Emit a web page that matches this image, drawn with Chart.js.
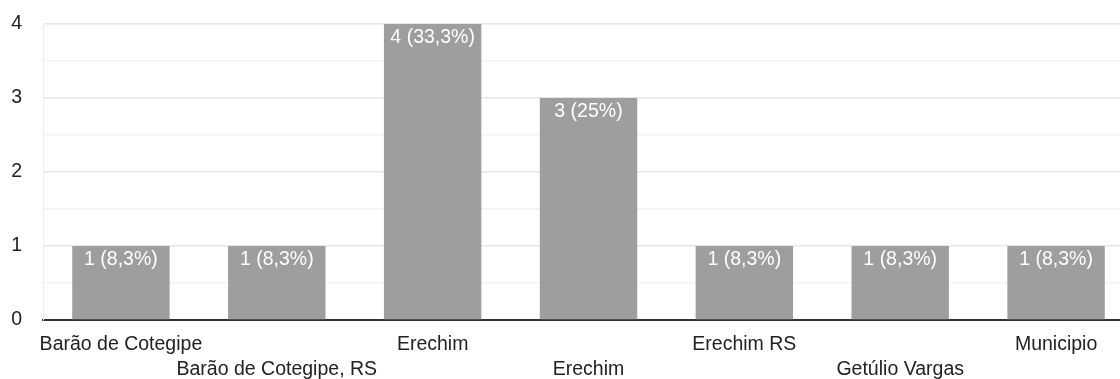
<!DOCTYPE html>
<html>
<head>
<meta charset="utf-8">
<script src="https://cdn.jsdelivr.net/npm/chart.js@4"></script>
<style>
  html, body { margin: 0; padding: 0; background: #fff; overflow: hidden; }
  #wrap { width: 1134px; height: 379px; }
</style>
</head>
<body>
<div id="wrap"><canvas id="myChart"></canvas></div>
<script>
// dados
var categories = ['Barão de Cotegipe', 'Barão de Cotegipe, RS', 'Erechim', 'Erechim', 'Erechim RS', 'Getúlio Vargas', 'Municipio'];
var counts = [1, 1, 4, 3, 1, 1, 1];
var percents = ['8,3%', '8,3%', '33,3%', '25%', '8,3%', '8,3%', '8,3%'];
var yTicks = [0, 1, 2, 3, 4];

var FONT = 'Arial, "Liberation Sans", sans-serif';
var FS = 19.5;

// rótulos alternados em duas linhas
var xLabels = categories.map(function (c, i) { return i % 2 === 0 ? c : ['', c]; });

// texto branco dentro da barra
var barLabels = {
  id: 'barLabels',
  afterDatasetsDraw: function (chart) {
    var ctx = chart.ctx;
    var meta = chart.getDatasetMeta(0);
    ctx.save();
    ctx.font = FS + 'px ' + FONT;
    ctx.fillStyle = '#ffffff';
    ctx.textAlign = 'center';
    ctx.textBaseline = 'middle';
    meta.data.forEach(function (bar, i) {
      ctx.fillText(counts[i] + ' (' + percents[i] + ')', bar.x, bar.y + 14);
    });
    ctx.restore();
  }
};

var ctx = document.getElementById('myChart').getContext('2d');
var myChart = new Chart(ctx, {
  type: 'bar',
  data: {
    labels: xLabels,
    datasets: [{
      data: counts,
      backgroundColor: '#9e9e9e',
      barPercentage: 0.625,
      categoryPercentage: 1
    }]
  },
  options: {
    responsive: true,
    maintainAspectRatio: false,
    animation: false,
    layout: { padding: { top: 24, right: 0, left: 0, bottom: 0 } },
    plugins: {
      legend: { display: false },
      tooltip: { enabled: false }
    },
    scales: {
      x: {
        grid: { display: false, drawTicks: false },
        border: { color: '#333333', width: 2 },
        ticks: {
          color: '#222222',
          font: { size: FS, family: FONT, lineHeight: 1.28 },
          maxRotation: 0,
          autoSkip: false,
          padding: 12
        },
        afterFit: function (scale) {
          scale.paddingLeft = 0;
          scale.paddingRight = 0;
          scale.height = 59;
        }
      },
      y: {
        min: yTicks[0],
        max: yTicks[yTicks.length - 1],
        grid: {
          color: function (c) { return c.tick.value % 1 === 0 ? '#e6e6e6' : '#f3f3f3'; },
          lineWidth: 1.5,
          drawTicks: false
        },
        border: { color: '#eeeeee', width: 1 },
        ticks: {
          stepSize: 0.5,
          color: '#222222',
          font: { size: FS, family: FONT },
          padding: 21,
          callback: function (v) { return yTicks.indexOf(v) >= 0 ? v : ''; }
        },
        afterFit: function (scale) {
          scale.paddingTop = 0;
          scale.paddingBottom = 0;
          scale.width = 43;
        }
      }
    }
  },
  plugins: [barLabels]
});
</script>
</body>
</html>
